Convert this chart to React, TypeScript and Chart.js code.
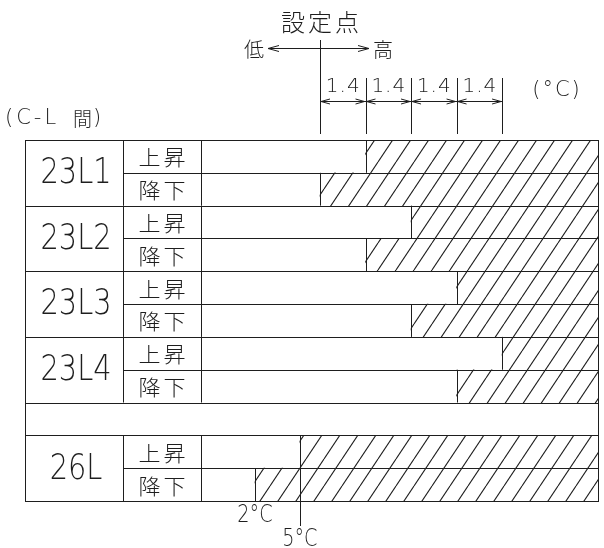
import React, { useEffect, useRef } from 'react';
import { Chart, registerables } from 'chart.js';
Chart.register(...registerables);

// ---- data ----
const groupNames = ['23L1', '23L2', '23L3', '23L4', '', '26L'];
const groupSizes = [2, 2, 2, 2, 1, 2];
const rowLabels = ['上昇', '降下', '上昇', '降下', '上昇', '降下', '上昇', '降下', '', '上昇', '降下'];
const categories = [
  '23L1 上昇', '23L1 降下', '23L2 上昇', '23L2 降下', '23L3 上昇', '23L3 降下',
  '23L4 上昇', '23L4 降下', '', '26L 上昇', '26L 降下',
];
// start of hatched zone, in °C relative to set point (26L row)
const hatchStart: (number | null)[] = [1.4, 0, 2.8, 1.4, 4.2, 2.8, 5.6, 4.2, null, -0.62, -2.0];
const xMin = -3.66;
const xMax = 8.55;
const dimTicks = [0, 1.4, 2.8, 4.2, 5.6];
const dimLabels = ['1.4', '1.4', '1.4', '1.4'];
const markerLabels = ['2°C', '5°C'];
const markerValues = [-2.0, -0.62];
const markerRows = [10, 9];

const INK = '#1e1e1e';
const LATIN = '"DejaVu Sans", "Noto Sans CJK JP", sans-serif';
const CJK = '"Noto Sans CJK JP", "Noto Sans", sans-serif';

function makeHatch(): CanvasPattern | string {
  const c = document.createElement('canvas');
  c.width = 18;
  c.height = 27;
  const g = c.getContext('2d');
  if (!g) return '#fff';
  g.fillStyle = '#fff';
  g.fillRect(0, 0, 18, 27);
  g.strokeStyle = INK;
  g.lineWidth = 1.1;
  for (const off of [-18, 0, 18]) {
    g.beginPath();
    g.moveTo(off, 27);
    g.lineTo(off + 18, 0);
    g.stroke();
  }
  return g.createPattern(c, 'repeat') || '#fff';
}

const px = (v: number) => Math.round(v) + 0.5;

function line(ctx: CanvasRenderingContext2D, x1: number, y1: number, x2: number, y2: number) {
  ctx.beginPath();
  ctx.moveTo(x1, y1);
  ctx.lineTo(x2, y2);
  ctx.stroke();
}

function chevron(ctx: CanvasRenderingContext2D, x: number, y: number, dir: number, len: number, half: number) {
  ctx.beginPath();
  ctx.moveTo(x - dir * len, y - half);
  ctx.lineTo(x, y);
  ctx.lineTo(x - dir * len, y + half);
  ctx.stroke();
}

function text(
  ctx: CanvasRenderingContext2D,
  s: string,
  x: number,
  y: number,
  font: string,
  align: CanvasTextAlign = 'center',
  scaleX = 1,
  spacing = 0,
) {
  ctx.save();
  ctx.font = font;
  ctx.textAlign = 'left';
  ctx.textBaseline = 'middle';
  (ctx as any).letterSpacing = `${spacing}px`;
  const w = (ctx.measureText(s).width - spacing) * scaleX;
  let left = x;
  if (align === 'center') left = x - w / 2;
  else if (align === 'right') left = x - w;
  ctx.translate(left, y);
  ctx.scale(scaleX, 1);
  ctx.fillText(s, 0, 0);
  ctx.restore();
}

const tablePlugin = {
  id: 'tablePlugin',
  afterDatasetsDraw(chart: any) {
    const ctx: CanvasRenderingContext2D = chart.ctx;
    const xs = chart.scales.x;
    const ys = chart.scales.y;
    const area = chart.chartArea;
    const n = categories.length;
    const L = 25;
    const C1 = 123;
    const C2 = area.left;
    const R = area.right;
    const bound = (i: number) =>
      i === 0 ? area.top : i === n ? area.bottom : (ys.getPixelForValue(i - 1) + ys.getPixelForValue(i)) / 2;

    ctx.save();
    ctx.strokeStyle = INK;
    ctx.fillStyle = INK;
    ctx.lineWidth = 1;

    const gStart: number[] = [0];
    groupSizes.forEach((s, i) => gStart.push(gStart[i] + s));

    // horizontal lines
    for (let i = 0; i <= n; i++) {
      const y = px(bound(i));
      const isGroup = gStart.includes(i);
      line(ctx, isGroup ? L : C1, y, R + 1, y);
    }
    // outer verticals
    line(ctx, px(L), bound(0), px(L), bound(n) + 1);
    line(ctx, px(R), bound(0), px(R), bound(n) + 1);
    // inner verticals + group labels
    groupNames.forEach((g, gi) => {
      if (!g) return;
      const t = bound(gStart[gi]);
      const b = bound(gStart[gi + 1]);
      line(ctx, px(C1), t, px(C1), b);
      line(ctx, px(C2), t, px(C2), b);
      text(ctx, g, (L + C1) / 2 + 2, (t + b) / 2 + 1, `200 36px ${LATIN}`, 'center', 0.8, 0);
    });
    // row labels
    rowLabels.forEach((r, i) => {
      if (!r) return;
      text(ctx, r, (C1 + C2) / 2, ys.getPixelForValue(i) + 1, `300 21px ${CJK}`, 'center', 1.05, 3);
    });
    // hatched-zone start edges
    hatchStart.forEach((s, i) => {
      if (s === null) return;
      const x = px(xs.getPixelForValue(s));
      line(ctx, x, bound(i), x, bound(i + 1));
    });

    // bottom markers (26L)
    markerLabels.forEach((lab, k) => {
      const x = xs.getPixelForValue(markerValues[k]);
      const r = markerRows[k];
      if (k === 1) {
        line(ctx, px(x), bound(r + 1), px(x), area.bottom + 25);
        text(ctx, lab, x, area.bottom + 39, `200 24px ${LATIN}`, 'center', 0.8, 0);
      } else {
        text(ctx, lab, x, area.bottom + 15, `200 24px ${LATIN}`, 'center', 0.8, 0);
      }
    });

    // top: set point + dimension chain
    const sp = xs.getPixelForValue(0);
    line(ctx, px(sp), 40, px(sp), area.top - 6);
    text(ctx, '設定点', sp, 22, `300 24px ${CJK}`, 'center', 1, 3);
    // low / high arrow
    line(ctx, 268, 48.5, 369, 48.5);
    chevron(ctx, 268, 48.5, -1, 11, 3);
    chevron(ctx, 369, 48.5, 1, 11, 3);
    text(ctx, '低', 254, 49, `300 20px ${CJK}`);
    text(ctx, '高', 383, 49, `300 20px ${CJK}`);

    const dimY = 101.5;
    dimTicks.forEach((t, k) => {
      const x = px(xs.getPixelForValue(t));
      if (k > 0) line(ctx, x, 78, x, area.top - 6);
    });
    line(ctx, xs.getPixelForValue(dimTicks[0]), dimY, xs.getPixelForValue(dimTicks[dimTicks.length - 1]), dimY);
    dimLabels.forEach((lab, k) => {
      const a = xs.getPixelForValue(dimTicks[k]);
      const b = xs.getPixelForValue(dimTicks[k + 1]);
      chevron(ctx, a + 1, dimY, -1, 9, 2.5);
      chevron(ctx, b - 1, dimY, 1, 9, 2.5);
      text(ctx, lab, (a + b) / 2, 87, `200 20px ${LATIN}`, 'center', 1, 1);
    });
    text(ctx, '(°C)', 556, 91, `200 21px ${LATIN}`, 'center', 1, 2);
    text(ctx, '(C-L ', 5, 119, `200 21px ${LATIN}`, 'left', 1, 3);
    text(ctx, '間', 73, 119, `300 19px ${CJK}`, 'left', 1, 0);
    text(ctx, ')', 93, 119, `200 21px ${LATIN}`, 'left', 1, 0);

    ctx.restore();
  },
};

export default function App() {
  const ref = useRef<HTMLCanvasElement | null>(null);
  useEffect(() => {
    if (!ref.current) return;
    const pattern = makeHatch();
    const chart = new Chart(ref.current, {
      type: 'bar',
      data: {
        labels: categories,
        datasets: [
          {
            data: hatchStart.map((s) => (s === null ? null : [s, xMax])) as any,
            backgroundColor: pattern as any,
            borderWidth: 0,
            barPercentage: 1,
            categoryPercentage: 1,
          },
        ],
      },
      options: {
        indexAxis: 'y',
        responsive: false,
        animation: false,
        devicePixelRatio: 1,
        layout: { padding: { left: 201, right: 6, top: 140, bottom: 47 } },
        plugins: { legend: { display: false }, tooltip: { enabled: false } },
        scales: {
          x: { type: 'linear', min: xMin, max: xMax, display: false },
          y: { display: false },
        },
      },
      plugins: [tablePlugin],
    });
    return () => chart.destroy();
  }, []);
  return (
    <div style={{ position: 'absolute', left: 0, top: 0, width: 604, height: 548, background: '#fff' }}>
      <canvas ref={ref} width={604} height={548} />
    </div>
  );
}
